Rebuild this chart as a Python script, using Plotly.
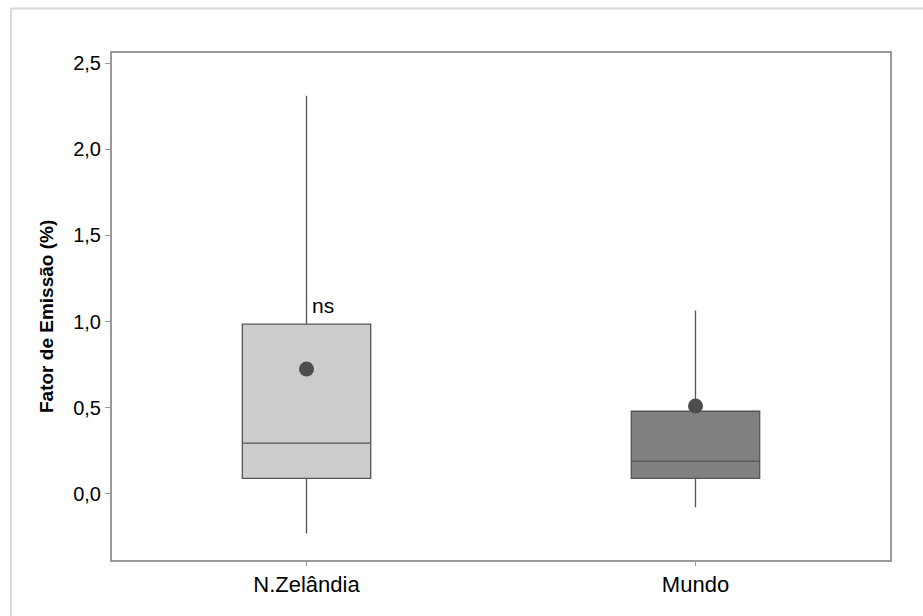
import plotly.graph_objects as go

categories = ["N.Zelândia", "Mundo"]
q1 = [0.09, 0.09]
median = [0.295, 0.19]
q3 = [0.985, 0.48]
lower_whisker = [-0.23, -0.077]
upper_whisker = [2.31, 1.065]
mean = [0.725, 0.51]
fill_colors = ["#cccccc", "#808080"]
annotation_text = "ns"
y_title = "Fator de Emissão (%)"

y_tickvals = [0.0, 0.5, 1.0, 1.5, 2.0, 2.5]
y_ticktext = ["0,0", "0,5", "1,0", "1,5", "2,0", "2,5"]

W, H = 923, 616
L, R, T, B = 112, 33, 53, 56
pw, ph = W - L - R, H - T - B

fig = go.Figure()
for i, cat in enumerate(categories):
    fig.add_trace(go.Box(
        x=[cat], q1=[q1[i]], median=[median[i]], q3=[q3[i]],
        lowerfence=[lower_whisker[i]], upperfence=[upper_whisker[i]],
        fillcolor=fill_colors[i], line=dict(color="#555555", width=1.3),
        boxpoints=False, width=0.33, whiskerwidth=0, showlegend=False,
        hoverinfo="skip",
    ))

fig.add_trace(go.Scatter(
    x=categories, y=mean, mode="markers",
    marker=dict(color="#4d4d4d", size=15, line=dict(width=0)),
    showlegend=False, hoverinfo="skip",
))

fig.add_annotation(x=categories[0], y=q3[0], text=annotation_text,
                   showarrow=False, xanchor="left", yanchor="bottom",
                   xshift=3, yshift=5,
                   font=dict(family="Liberation Sans, Arial", size=21, color="#000000"))

def px_x(p):
    return (p - L) / pw

def px_y(p):
    return (H - B - p) / ph

fig.add_annotation(xref="paper", yref="paper", x=px_x(46), y=px_y(317),
                   text="<b>" + y_title + "</b>", textangle=-90, showarrow=False,
                   xanchor="center", yanchor="middle",
                   font=dict(family="Liberation Sans, Arial", size=19, color="#000000"))

fig.add_shape(type="rect", xref="paper", yref="paper",
              x0=px_x(11), x1=px_x(935), y0=px_y(630), y1=px_y(8.5),
              line=dict(color="#d9d9d9", width=2), fillcolor="rgba(0,0,0,0)",
              layer="below")

fig.update_layout(
    width=W, height=H,
    margin=dict(l=L, r=R, t=T, b=B),
    paper_bgcolor="white", plot_bgcolor="white",
    font=dict(family="Liberation Sans, Arial", size=18, color="#000000"),
    xaxis=dict(
        range=[-0.5, 1.5], showgrid=False, zeroline=False,
        showline=True, linecolor="#999999", linewidth=2, mirror=True,
        ticks="outside", ticklen=4, tickcolor="#999999", tickwidth=1,
        tickfont=dict(size=22),
    ),
    yaxis=dict(
        range=[-0.383, 2.558], showgrid=False, zeroline=False,
        showline=True, linecolor="#999999", linewidth=2, mirror=True,
        ticks="outside", ticklen=5, tickcolor="#999999", tickwidth=1,
        tickvals=y_tickvals, ticktext=y_ticktext,
        tickfont=dict(size=20),
    ),
)

fig.write_html("out.html")
